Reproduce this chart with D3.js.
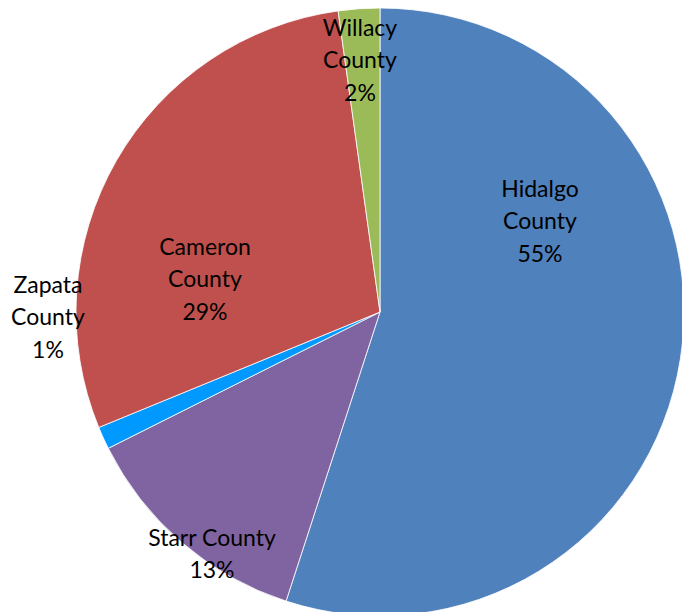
<!DOCTYPE html>
<html>
<head>
<meta charset="utf-8">
<script src="https://cdn.jsdelivr.net/npm/d3@7"></script>
<style>
  html, body { margin: 0; padding: 0; background: #fff; }
  svg { display: block; }
</style>
</head>
<body>
<svg id="chart" width="682" height="612"></svg>
<script>
// Data (clockwise from 12 o'clock)
const counties = ["Hidalgo County", "Starr County", "Zapata County", "Cameron County", "Willacy County"];
const shares = [55.0, 12.6, 1.2, 29.0, 2.2];
const percentLabels = ["55%", "13%", "1%", "29%", "2%"];
const colors = ["#4F81BD", "#8064A2", "#0099FF", "#C0504D", "#9BBB59"];

// Layout
const W = 682, H = 612;
const cx = 380, cy = 312, R = 304;
// label line arrays and anchor positions (center of text block)
const labelLines = [
  ["Hidalgo", "County", "55%"],
  ["Starr County", "13%"],
  ["Zapata", "County", "1%"],
  ["Cameron", "County", "29%"],
  ["Willacy", "County", "2%"]
];
const labelPos = [[540, 220], [212, 553], [48, 316], [205, 278], [360, 59]];
const lineH = 32.5;

const svg = d3.select("#chart");
const g = svg.append("g").attr("transform", `translate(${cx},${cy})`);

const pie = d3.pie().sort(null).value(d => d.v).startAngle(0).endAngle(2 * Math.PI);
const arc = d3.arc().innerRadius(0).outerRadius(R);

const data = counties.map((c, i) => ({ name: c, v: shares[i], color: colors[i], i }));
const arcs = pie(data);

g.selectAll("path.slice")
  .data(arcs)
  .enter().append("path")
  .attr("class", "slice")
  .attr("d", arc)
  .attr("fill", d => d.data.color)
  .attr("stroke", "#ffffff")
  .attr("stroke-width", 0.8)
  .attr("stroke-linejoin", "round");

const labels = svg.append("g")
  .attr("font-family", "Lato, 'Open Sans', sans-serif")
  .attr("font-size", 23)
  .attr("fill", "#000")
  .attr("text-anchor", "middle");

arcs.forEach((a, i) => {
  const lines = labelLines[i];
  const [lx, ly] = labelPos[i];
  const n = lines.length;
  const t = labels.append("text")
    .attr("x", lx)
    .attr("y", ly);
  lines.forEach((ln, k) => {
    t.append("tspan")
      .attr("x", lx)
      .attr("y", ly + (k - (n - 1) / 2) * lineH)
      .attr("dominant-baseline", "central")
      .text(ln);
  });
});
</script>
</body>
</html>
